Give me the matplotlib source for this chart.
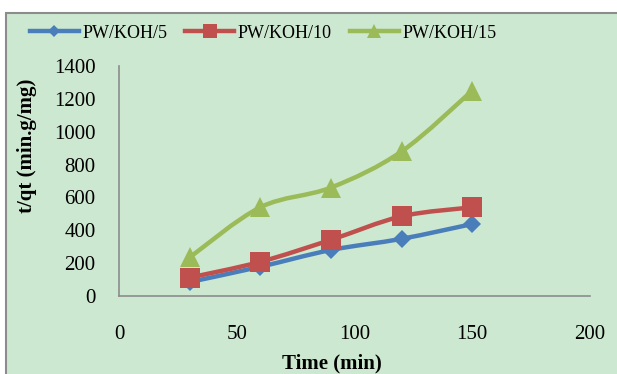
import matplotlib
matplotlib.use("Agg")
import matplotlib.pyplot as plt
import numpy as np
from matplotlib.path import Path
from matplotlib.patches import PathPatch, Rectangle
from matplotlib.lines import Line2D

time_min = [30, 60, 90, 120, 150]
pw_koh_5 = [85, 178, 280, 348, 438]
pw_koh_10 = [112, 208, 342, 485, 540]
pw_koh_15 = [235, 540, 660, 880, 1250]

series_names = ["PW/KOH/5", "PW/KOH/10", "PW/KOH/15"]
x_ticks = [0, 50, 100, 150, 200]
y_ticks = [0, 200, 400, 600, 800, 1000, 1200, 1400]

plt.rcParams['font.family'] = ['Liberation Serif', 'DejaVu Serif']

bg = '#cde8d0'
colors = ['#4a7ebb', '#c0504d', '#9bbb59']
markers = ['D', 's', '^']
msizes = [9, 14.5, 14]


def smooth_path(xs, ys):
    # catmull-rom style bezier, like excel's smoothed line
    pts = np.column_stack([xs, ys]).astype(float)
    verts = [pts[0]]
    codes = [Path.MOVETO]
    n = len(pts)
    for i in range(n - 1):
        p0 = pts[i - 1] if i > 0 else pts[i]
        p1 = pts[i]
        p2 = pts[i + 1]
        p3 = pts[i + 2] if i + 2 < n else pts[i + 1]
        c1 = p1 + (p2 - p0) / 6.0
        c2 = p2 - (p3 - p1) / 6.0
        verts += [c1, c2, p2]
        codes += [Path.CURVE4] * 3
    return Path(verts, codes)


fig = plt.figure(figsize=(6.17, 3.74), dpi=100)
fig.patch.set_facecolor('white')

# chart area box
fig.patches.append(Rectangle((6 / 617, -0.05), 1.0, (374 - 13) / 374 + 0.05,
                             transform=fig.transFigure, facecolor=bg,
                             edgecolor='#8c8c8c', linewidth=1.5, zorder=-5))

ax = fig.add_axes([119 / 617, 1 - 296 / 374, (590 - 119) / 617, (296 - 66) / 374])
ax.set_facecolor('none')
ax.set_zorder(2)

for ys, c, m, ms in zip([pw_koh_5, pw_koh_10, pw_koh_15], colors, markers, msizes):
    ax.add_patch(PathPatch(smooth_path(time_min, ys), facecolor='none',
                           edgecolor=c, linewidth=3.2, zorder=2))
    ax.plot(time_min, ys, linestyle='none', marker=m, markersize=ms,
            color=c, markeredgewidth=0, zorder=3, clip_on=False)

ax.set_xlim(0, 200)
ax.set_ylim(0, 1400)
ax.set_xticks(x_ticks)
ax.set_yticks(y_ticks)
ax.tick_params(axis='both', length=0, labelsize=15)
ax.tick_params(axis='x', pad=21)
ax.tick_params(axis='y', pad=17)
for s in ['top', 'right']:
    ax.spines[s].set_visible(False)
for s in ['left', 'bottom']:
    ax.spines[s].set_color('#8c8c8c')
    ax.spines[s].set_linewidth(1.2)

fig.text(332 / 617, 1 - 363 / 374, 'Time (min)', ha='center', va='center',
         fontsize=15, fontweight='bold')
fig.text(27 / 617, 1 - 146 / 374, 't/qt (min.g/mg)', ha='center', va='center',
         rotation=90, fontsize=15, fontweight='bold')

handles = [Line2D([], [], color=c, marker=m, markersize=ms * 0.7, linewidth=3.2,
                  markeredgewidth=0)
           for c, m, ms in zip(colors, markers, msizes)]
fig.legend(handles, series_names, loc='center left', ncol=3,
           bbox_to_anchor=(30 / 617, 1 - 33 / 374), frameon=False,
           fontsize=13, handlelength=2.7, handletextpad=0.2, columnspacing=1.0,
           borderaxespad=0, borderpad=0)

fig.savefig('out.png', dpi=100)
